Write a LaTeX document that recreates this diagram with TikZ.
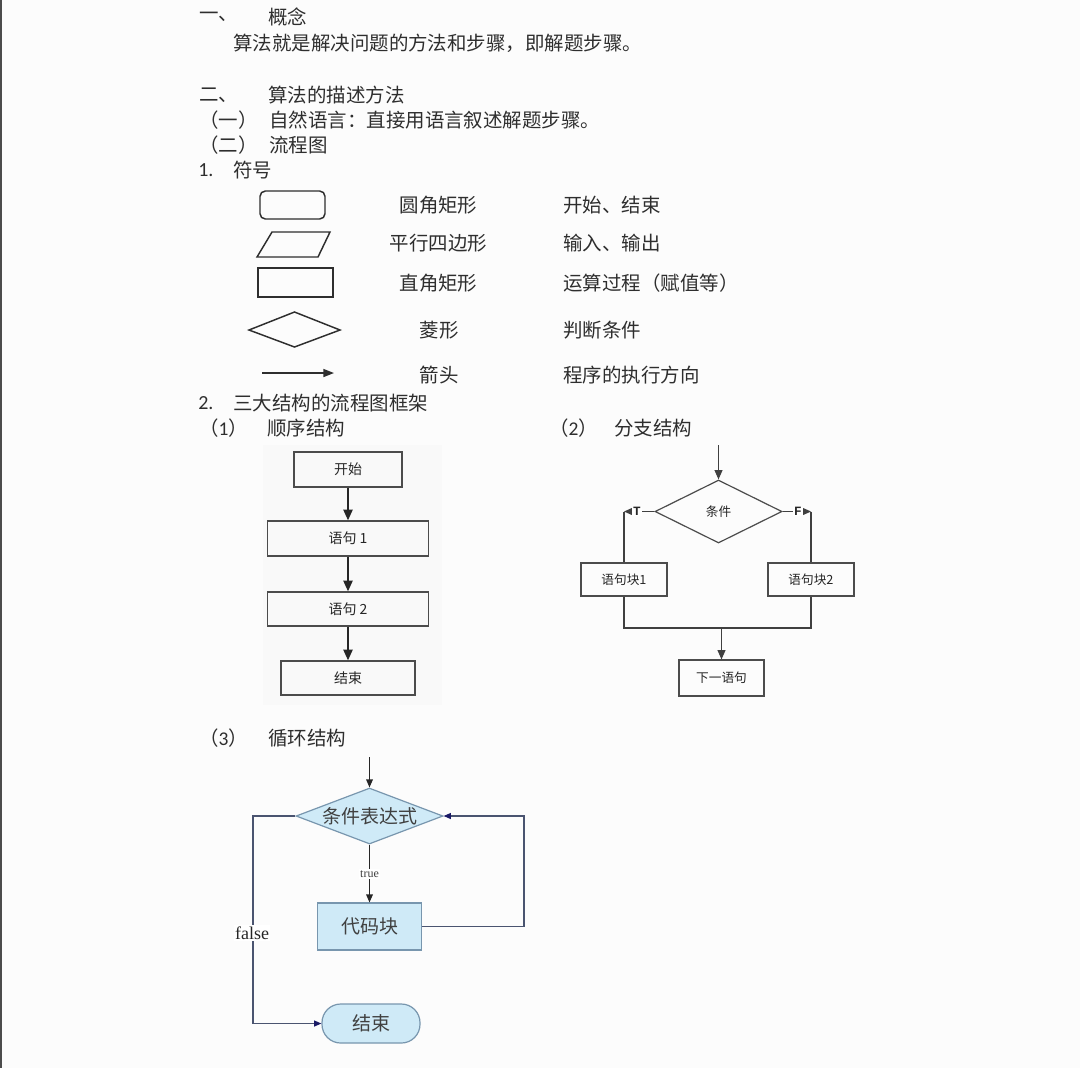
\documentclass[tikz,border=0pt]{standalone}
\usepackage{fontspec}
\newfontfamily\cjk{Noto Sans CJK SC}
\newfontfamily\calfont{Carlito}
\newfontfamily\tmsfont{Liberation Serif}
\newfontfamily\monof{Liberation Mono}
\usetikzlibrary{arrows.meta,shapes.geometric}
\definecolor{lfill}{HTML}{CFEAF7}
\definecolor{lborder}{HTML}{7896AE}
\definecolor{lline}{HTML}{4A5470}
\definecolor{ltip}{HTML}{1A1A66}
\definecolor{ink}{HTML}{2E2E2E}
\begin{document}
\begin{tikzpicture}[x=0.75pt,y=-0.75pt,
  hd/.style={anchor=west, inner sep=0pt, text=ink, font=\cjk\fontsize{14.6}{16}\selectfont},
  lbl/.style={anchor=center, inner sep=0pt, text=ink, font=\cjk\fontsize{14.6}{16}\selectfont},
  sym/.style={draw=ink, line width=1.1pt},
  sbox/.style={draw=black!70, line width=1.1pt, inner sep=0pt, text=black!85, font=\cjk\fontsize{10.5}{12}\selectfont},
  sarr/.style={draw=black!85, line width=1.1pt, -{Triangle[length=8pt,width=7pt]}},
  bbox/.style={draw=black!70, line width=0.9pt, inner sep=0pt, text=black!85, font=\cjk\fontsize{9.5}{11}\selectfont},
  bline/.style={draw=black!75, line width=0.8pt},
  barr/.style={bline, -{Triangle[length=7pt,width=6pt]}},
  tf/.style={fill=white, inner sep=0.6pt, text=black!85, font=\monof\bfseries\fontsize{9.5}{10}\selectfont},
  lbox/.style={draw=lborder, fill=lfill, line width=0.9pt, inner sep=0pt, text=black!75, font=\cjk\fontsize{14.25}{16}\selectfont},
  ldiam/.style={diamond, draw=lborder, fill=lfill, line width=0.9pt, inner sep=0pt, minimum width=110.25pt, minimum height=42pt},
  lline/.style={draw=lline, line width=0.9pt},
  larr/.style={lline, -{Triangle[length=5.5pt,width=4.5pt,color=ltip]}}
]
% page
\path[use as bounding box, fill=white!99!black] (0,0) rectangle (1080,1068);
\fill[black!70] (0,0) rectangle (1.6,1068);

% ---- section one
\node[hd] (h1a) at (199,17) {一、};
\node[hd] (h1b) at (268,17) {概念};
\node[hd] (h1c) at (233,43) {算法就是解决问题的方法和步骤，即解题步骤。};
\node[hd] (h2a) at (199,95) {二、};
\node[hd] (h2b) at (268,95) {算法的描述方法};
\node[hd] (h3a) at (199,120) {（一）};
\node[hd] (h3b) at (269,120) {自然语言：直接用语言叙述解题步骤。};
\node[hd] (h4a) at (199,145) {（二）};
\node[hd] (h4b) at (269,145) {流程图};
\node[hd, font=\calfont\fontsize{15}{17}\selectfont] (h5a) at (198,170) {1.};
\node[hd] (h5b) at (233,170) {符号};

% ---- symbols
\draw[sym, rounded corners=4pt] (260,191) rectangle (325,219);
\draw[sym] (272,232) -- (330,232) -- (318,257) -- (257,257) -- cycle;
\draw[sym] (258,268) rectangle (333,297);
\draw[sym] (249,330) -- (294.5,312) -- (340,330) -- (294.5,347) -- cycle;
\coordinate (sa1) at (262,373);
\coordinate (sa2) at (334,373);
\draw[sym, -{Triangle[length=8pt,width=6pt]}] (sa1) -- (sa2);

\node[lbl] (n1) at (438.5,205) {圆角矩形};
\node[lbl] (n2) at (438.5,243) {平行四边形};
\node[lbl] (n3) at (438.5,283) {直角矩形};
\node[lbl] (n4) at (439,330) {菱形};
\node[lbl] (n5) at (439,375) {箭头};
\node[hd] (m1) at (563,205) {开始、结束};
\node[hd] (m2) at (563,243) {输入、输出};
\node[hd] (m3) at (563,283) {运算过程（赋值等）};
\node[hd] (m4) at (563,330) {判断条件};
\node[hd] (m5) at (563,375) {程序的执行方向};

% ---- section 2 headings
\node[hd, font=\calfont\fontsize{15}{17}\selectfont] (h6a) at (198,403) {2.};
\node[hd] (h6b) at (233,403) {三大结构的流程图框架};
\node[hd] (h7a) at (199,428) {（\calfont 1\cjk ）};
\node[hd] (h7b) at (267,428) {顺序结构};
\node[hd] (h8a) at (549,428) {（\calfont 2\cjk ）};
\node[hd] (h8b) at (614,428) {分支结构};
\node[hd] (h9a) at (199,738) {（\calfont 3\cjk ）};
\node[hd] (h9b) at (268,738) {循环结构};

% ---- sequence structure
\fill[black!2.5] (263,445) rectangle (442,705);
\node[sbox, minimum width=81pt, minimum height=26.25pt] (s0) at (348,469.5) {开始};
\node[sbox, minimum width=120.75pt, minimum height=26.25pt] (s1) at (348,538.5) {语句 1};
\node[sbox, minimum width=120.75pt, minimum height=25.5pt] (s2) at (348,609) {语句 2};
\node[sbox, minimum width=100.5pt, minimum height=25.5pt] (s3) at (348,678) {结束};
\draw[sarr] (s0) -- (s1);
\draw[sarr] (s1) -- (s2);
\draw[sarr] (s2) -- (s3);

% ---- branch structure
\node[diamond, draw=black!70, line width=0.9pt, inner sep=0pt, minimum width=95.25pt, minimum height=47.25pt] (bd) at (718.5,511.5) {};
\node[bbox, draw=none] (bdt) at (bd.center) {条件};
\coordinate (bin) at (718.5,445);
\draw[barr] (bin) -- (bd.north);
\node[bbox, minimum width=64.5pt, minimum height=24.75pt] (b1) at (624,579.5) {语句块1};
\node[bbox, minimum width=64.5pt, minimum height=24.75pt] (b2) at (811,579.5) {语句块2};
\coordinate (cT) at (624,511.5);
\coordinate (cF) at (811,511.5);
\draw[barr] (bd.west) -- (cT);
\draw[barr] (bd.east) -- (cF);
\node[tf] (tT) at (637,511.5) {T};
\node[tf] (tF) at (798,511.5) {F};
\draw[bline] (cT) -- (b1.north);
\draw[bline] (cF) -- (b2.north);
\coordinate (bm) at (721.5,628);
\draw[bline] (b1.south) |- (bm) -| (b2.south);
\node[bbox, minimum width=63.75pt, minimum height=27pt] (bn) at (721.5,678) {下一语句};
\draw[barr] (bm) -- (bn.north);

% ---- loop structure
\node[ldiam] (ld) at (369.5,816) {};
\node[text=black!75, inner sep=0pt, font=\cjk\fontsize{14.25}{16}\selectfont] (ldt) at (ld.center) {条件表达式};
\coordinate (lin) at (369.5,757);
\draw[lline, -{Triangle[length=6pt,width=5pt,color=black!85]}, draw=black!85] (lin) -- (ld.north);
\node[lbox, minimum width=78pt, minimum height=35.25pt] (lc) at (369.5,926.5) {代码块};
\draw[lline, -{Triangle[length=6pt,width=5pt,color=black!85]}, draw=black!85] (ld.south) -- (lc.north);
\node[fill=white, inner sep=1pt, text=black!75, font=\tmsfont\fontsize{9}{10}\selectfont] (ltrue) at (369.5,874) {true};
\coordinate (lr) at (524,926.5);
\draw[larr] (lc.east) -- (lr) |- (ld.east);
\node[lbox, rounded corners=14pt, minimum width=73.5pt, minimum height=29.25pt] (le) at (371,1023.5) {结束};
\coordinate (ll) at (253,816);
\draw[larr] (ld.west) -- (ll) |- (le.west);
\node[fill=white, inner sep=1pt, text=black!85, font=\tmsfont\fontsize{13.5}{15}\selectfont] (lfalse) at (252,933) {false};
\end{tikzpicture}
\end{document}
